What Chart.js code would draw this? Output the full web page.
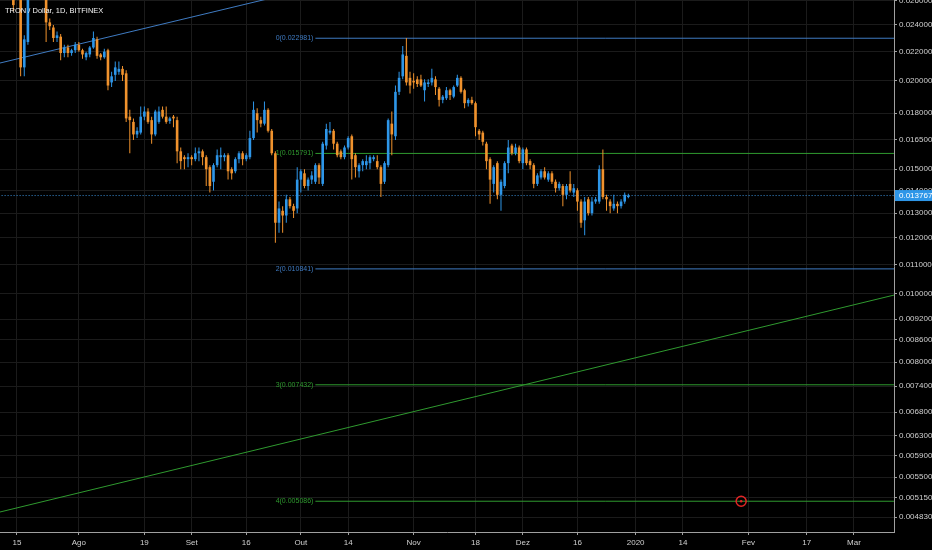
<!DOCTYPE html>
<html>
<head>
<meta charset="utf-8">
<script src="https://cdn.jsdelivr.net/npm/chart.js@4.4.1/dist/chart.umd.min.js"></script>
<style>
html, body { margin: 0; padding: 0; background: #000; }
#wrap { width: 932px; height: 550px; }
</style>
</head>
<body>
<div id="wrap"><canvas id="chart" width="932" height="550"></canvas></div>
<script>
const FONT = '"Liberation Sans", Arial, sans-serif';
const UP_COLOR = "#2e96e8";
const DOWN_COLOR = "#f0922d";
const BLUE_LINE = "#3f7bc2";
const GREEN_LINE = "#2f9a2f";

// day index 0 = 15 Jul 2019, first candle is day -1
const FIRST_DAY = -1;
const opens = [
	0.0272, 0.0268, 0.0282, 0.0209, 0.0227, 0.0295, 0.0285, 0.0290, 0.0278, 0.0272,
	0.0242, 0.0238, 0.0230, 0.0231, 0.0219, 0.0223, 0.0219, 0.0221, 0.0225, 0.0221,
	0.0216, 0.0218, 0.0223, 0.0229, 0.0218, 0.0216, 0.0221, 0.0199, 0.0204, 0.0206,
	0.0208, 0.0205, 0.0178, 0.0175, 0.0168, 0.0169, 0.0178, 0.0181, 0.0176, 0.0168,
	0.0175, 0.0182, 0.0178, 0.01755, 0.0178, 0.0176, 0.0159, 0.0156, 0.0155, 0.0156,
	0.0155, 0.0158, 0.0159, 0.0156, 0.0151, 0.0144, 0.0152, 0.0156, 0.0156, 0.0157,
	0.0150, 0.0149, 0.0155, 0.0158, 0.0155, 0.0156, 0.0166, 0.0180, 0.0176, 0.0174,
	0.0182, 0.0170, 0.0158, 0.0126, 0.0131, 0.0129, 0.0136, 0.0133, 0.0132, 0.0145,
	0.0148, 0.0142, 0.0145, 0.0144, 0.0152, 0.0143, 0.0162, 0.0169, 0.0170, 0.0163,
	0.0159, 0.0156, 0.0161, 0.0167, 0.0157, 0.0149, 0.0152, 0.0152, 0.0153, 0.0155,
	0.0154, 0.0151, 0.0144, 0.0152, 0.0174, 0.0167, 0.0193, 0.0203, 0.0217, 0.0202,
	0.0200, 0.0201, 0.0201, 0.0194, 0.0198, 0.0199, 0.0201, 0.0195, 0.0188, 0.0189,
	0.0194, 0.0190, 0.0197, 0.0202, 0.0194, 0.0186, 0.0188, 0.0186, 0.0170, 0.0169,
	0.0163, 0.0155, 0.0143, 0.0153, 0.0138, 0.0142, 0.0153, 0.0162, 0.0158, 0.0161,
	0.0153, 0.0160, 0.0154, 0.0152, 0.0143, 0.0146, 0.0149, 0.0145, 0.0148, 0.0144,
	0.0141, 0.0142, 0.0138, 0.0143, 0.0139, 0.0140, 0.0135, 0.0127, 0.0136, 0.0130,
	0.0135, 0.0135, 0.0150, 0.0137, 0.0135, 0.0132, 0.0134, 0.0133, 0.0135, 0.0137,
];
const highs = [
	0.0278, 0.0285, 0.0288, 0.0232, 0.0300, 0.0310, 0.0300, 0.0296, 0.0285, 0.0276,
	0.0245, 0.0240, 0.0235, 0.0233, 0.0225, 0.0225, 0.0222, 0.0227, 0.0227, 0.0222,
	0.0220, 0.0224, 0.0235, 0.0231, 0.0219, 0.0222, 0.0222, 0.0206, 0.0213, 0.0213,
	0.0210, 0.0207, 0.0182, 0.0177, 0.0172, 0.0184, 0.0184, 0.0183, 0.0178, 0.0182,
	0.0184, 0.0184, 0.0184, 0.0178, 0.0179, 0.0178, 0.0161, 0.0157, 0.0158, 0.0157,
	0.0161, 0.0161, 0.0160, 0.0157, 0.0152, 0.0153, 0.0160, 0.0161, 0.0158, 0.0158,
	0.0151, 0.0156, 0.0159, 0.0159, 0.0158, 0.0170, 0.0187, 0.0183, 0.0178, 0.0187,
	0.0183, 0.0171, 0.0159, 0.0135, 0.0133, 0.0138, 0.0137, 0.0134, 0.0151, 0.0150,
	0.0150, 0.0146, 0.0149, 0.0153, 0.0153, 0.0164, 0.0174, 0.0175, 0.0171, 0.0164,
	0.0160, 0.0162, 0.0167, 0.0168, 0.0158, 0.0153, 0.0155, 0.0157, 0.0157, 0.0157,
	0.0157, 0.0152, 0.0154, 0.0177, 0.0181, 0.0197, 0.0206, 0.0224, 0.0230, 0.0206,
	0.0205, 0.0203, 0.0204, 0.0201, 0.0201, 0.0208, 0.0203, 0.0196, 0.0191, 0.0196,
	0.0195, 0.0197, 0.0204, 0.0203, 0.0195, 0.0189, 0.0190, 0.0187, 0.0171, 0.0170,
	0.0164, 0.0156, 0.0152, 0.0154, 0.0145, 0.0154, 0.0165, 0.0163, 0.0163, 0.0162,
	0.0161, 0.0161, 0.0155, 0.0153, 0.0148, 0.0150, 0.0151, 0.0149, 0.0149, 0.0145,
	0.0144, 0.0143, 0.0143, 0.0149, 0.0143, 0.0141, 0.0136, 0.0137, 0.0137, 0.0137,
	0.0137, 0.0152, 0.0160, 0.0138, 0.0136, 0.0138, 0.0135, 0.0136, 0.0139, 0.01385,
];
const lows = [
	0.0251, 0.0263, 0.0203, 0.0203, 0.0225, 0.0280, 0.0275, 0.0272, 0.0268, 0.0227,
	0.0236, 0.0227, 0.0227, 0.0214, 0.0216, 0.0216, 0.0217, 0.0219, 0.0220, 0.0215,
	0.0214, 0.0216, 0.0222, 0.0215, 0.0214, 0.0215, 0.0194, 0.0196, 0.0200, 0.0204,
	0.0200, 0.0175, 0.0158, 0.0165, 0.0166, 0.0168, 0.0176, 0.0174, 0.0163, 0.0167,
	0.0174, 0.0177, 0.0174, 0.0174, 0.0172, 0.0153, 0.0150, 0.0150, 0.0151, 0.0152,
	0.0154, 0.0154, 0.0152, 0.0142, 0.0139, 0.0140, 0.0151, 0.0150, 0.0154, 0.0145,
	0.0145, 0.0148, 0.0153, 0.0152, 0.0154, 0.0155, 0.0165, 0.0169, 0.0172, 0.0173,
	0.0169, 0.0157, 0.0118, 0.0122, 0.0122, 0.0126, 0.0132, 0.0128, 0.0130, 0.0139,
	0.0141, 0.0140, 0.0143, 0.0143, 0.0143, 0.0142, 0.0160, 0.0168, 0.0160, 0.0156,
	0.0155, 0.0155, 0.0160, 0.0145, 0.0146, 0.0146, 0.0149, 0.0150, 0.0150, 0.0154,
	0.0150, 0.0137, 0.0143, 0.0151, 0.0157, 0.0165, 0.0191, 0.0201, 0.0197, 0.0192,
	0.0195, 0.0196, 0.0196, 0.0187, 0.0196, 0.0197, 0.0191, 0.0184, 0.0186, 0.0188,
	0.0188, 0.0189, 0.0196, 0.0192, 0.0183, 0.0184, 0.0185, 0.0167, 0.0165, 0.0162,
	0.0150, 0.0134, 0.0139, 0.0136, 0.0131, 0.0141, 0.0148, 0.0157, 0.0157, 0.0153,
	0.0150, 0.0152, 0.0150, 0.0141, 0.0142, 0.0145, 0.0145, 0.0144, 0.0143, 0.0139,
	0.0140, 0.0133, 0.0136, 0.0139, 0.0137, 0.0131, 0.0124, 0.0121, 0.0129, 0.0129,
	0.0134, 0.0134, 0.0136, 0.0131, 0.0130, 0.0131, 0.0130, 0.0132, 0.0134, 0.01365,
];
const closes = [
	0.0256, 0.0280, 0.0209, 0.0229, 0.0295, 0.0285, 0.0290, 0.0278, 0.0272, 0.0242,
	0.0239, 0.0230, 0.0232, 0.0219, 0.0223, 0.0219, 0.0221, 0.0225, 0.0221, 0.0218,
	0.0219, 0.0223, 0.0230, 0.0217, 0.0216, 0.0220, 0.0197, 0.0203, 0.0209, 0.0208,
	0.0204, 0.0177, 0.0176, 0.0168, 0.0170, 0.0178, 0.0181, 0.0175, 0.0168, 0.0181,
	0.0181, 0.0178, 0.0175, 0.0177, 0.0177, 0.0159, 0.0154, 0.0155, 0.0156, 0.0155,
	0.0158, 0.0159, 0.0156, 0.0150, 0.0142, 0.0152, 0.0157, 0.0157, 0.0157, 0.0149,
	0.0148, 0.0155, 0.0158, 0.0155, 0.0157, 0.0166, 0.0182, 0.0176, 0.0174, 0.0182,
	0.0170, 0.0158, 0.0126, 0.0132, 0.0129, 0.0136, 0.0133, 0.0131, 0.0145, 0.0149,
	0.0142, 0.0145, 0.0147, 0.0152, 0.0146, 0.0163, 0.0171, 0.0170, 0.0163, 0.0157,
	0.0156, 0.0161, 0.0166, 0.0155, 0.0151, 0.0152, 0.0154, 0.0154, 0.0156, 0.0156,
	0.0151, 0.0143, 0.0153, 0.0176, 0.0168, 0.0193, 0.0202, 0.0218, 0.0199, 0.0197,
	0.0199, 0.0198, 0.0197, 0.0199, 0.0199, 0.0202, 0.0196, 0.0188, 0.0190, 0.0194,
	0.0191, 0.0196, 0.0202, 0.0193, 0.0186, 0.0188, 0.0186, 0.0172, 0.0168, 0.0164,
	0.0154, 0.0145, 0.0151, 0.0138, 0.0144, 0.0153, 0.0161, 0.0158, 0.0161, 0.0154,
	0.0160, 0.0153, 0.0152, 0.0143, 0.0147, 0.0149, 0.0146, 0.0148, 0.0144, 0.0141,
	0.0143, 0.0138, 0.0142, 0.0140, 0.0141, 0.0135, 0.0126, 0.0135, 0.0130, 0.0135,
	0.0136, 0.0150, 0.0137, 0.0136, 0.0133, 0.0134, 0.0133, 0.0135, 0.0138, 0.013767,
];

const X_TICK_DAYS = [0, 17, 35, 48, 63, 78, 91, 109, 126, 139, 154, 170, 183, 201, 217, 230];
const X_TICK_LABELS = ["15", "Ago", "19", "Set", "16", "Out", "14", "Nov", "18", "Dez", "16", "2020", "14", "Fev", "17", "Mar"];
const X_MIN = -4.67;
const X_MAX = 241.0;

const Y_TICKS = [
	0.026, 0.024, 0.022, 0.020, 0.018, 0.0165, 0.015, 0.014, 0.013, 0.012, 0.011,
	0.010, 0.0092, 0.0086, 0.0080, 0.0074, 0.0068, 0.0063, 0.0059, 0.0055, 0.00515, 0.00483,
];
const Y_MIN = 0.004601;
const Y_MAX = 0.02603;

// fibonacci levels drawn from day 82 to the right
const FIB_START_DAY = 82;
const FIB_LEVELS = ["0", "1", "2", "3", "4"];
const FIB_VALUES = [0.022981, 0.015791, 0.010841, 0.007432, 0.005086];
const FIB_COLORS = [BLUE_LINE, GREEN_LINE, BLUE_LINE, GREEN_LINE, GREEN_LINE];

// trend lines [day, price]
const UPPER_TREND = [[-5, 0.02118], [100, 0.02854]];
const LOWER_TREND = [[-5, 0.004906], [245, 0.01007]];

// marker on the last fib level
const MARKER_DAY = 199;
const MARKER_PRICE = 0.005086;

const days = opens.map((_, i) => FIRST_DAY + i);
const lastClose = closes[closes.length - 1];
const candleColors = opens.map((o, i) => (closes[i] >= o ? UP_COLOR : DOWN_COLOR));

const fibDatasets = FIB_VALUES.map((v, i) => ({
	type: "line",
	data: [{ x: FIB_START_DAY, y: v }, { x: 260, y: v }],
	borderColor: FIB_COLORS[i],
	borderWidth: 1,
	pointRadius: 0,
	order: 2,
}));

const trendDataset = (pts, color) => ({
	type: "line",
	data: pts.map((p) => ({ x: p[0], y: p[1] })),
	borderColor: color,
	borderWidth: 1,
	pointRadius: 0,
	order: 2,
});

const overlay = {
	id: "overlay",
	afterDatasetsDraw(chart) {
		const { ctx, scales } = chart;
		ctx.save();
		ctx.font = "7px " + FONT;
		ctx.textAlign = "right";
		ctx.textBaseline = "middle";
		FIB_VALUES.forEach((v, i) => {
			ctx.fillStyle = FIB_COLORS[i];
			ctx.fillText(
				`${FIB_LEVELS[i]}(${v.toFixed(6)})`,
				scales.x.getPixelForValue(FIB_START_DAY) - 2,
				scales.y.getPixelForValue(v)
			);
		});
		ctx.restore();
	},
	afterDraw(chart) {
		const { ctx, scales, chartArea } = chart;
		ctx.save();
		ctx.font = "7.5px " + FONT;
		ctx.fillStyle = "#f2f2f2";
		ctx.textAlign = "left";
		ctx.textBaseline = "middle";
		ctx.fillText("TRON / Dollar, 1D, BITFINEX", 5, 11);

		// last price label on the axis
		var py = scales.y.getPixelForValue(lastClose);
		ctx.font = "8px " + FONT;
		ctx.fillStyle = "#2e96e8";
		ctx.fillRect(chartArea.right + 1, py - 5.5, 38, 11);
		ctx.fillStyle = "#ffffff";
		ctx.fillText(lastClose.toFixed(6), chartArea.right + 5, py);
		ctx.restore();
	},
};

new Chart(document.getElementById("chart"), {
	type: "bar",
	data: {
		datasets: [
			{
				label: "wicks",
				data: days.map((d, i) => ({ x: d, y: [lows[i], highs[i]] })),
				backgroundColor: candleColors,
				maxBarThickness: 1,
				grouped: false,
				order: 1,
			},
			{
				label: "bodies",
				data: days.map((d, i) => ({ x: d, y: [opens[i], closes[i]] })),
				backgroundColor: candleColors,
				maxBarThickness: 2.7,
				minBarLength: 1,
				grouped: false,
				order: 0,
			},
			trendDataset(UPPER_TREND, BLUE_LINE),
			trendDataset(LOWER_TREND, GREEN_LINE),
			...fibDatasets,
			{
				type: "line",
				data: [{ x: -10, y: lastClose }, { x: 260, y: lastClose }],
				borderColor: "#3a8fd8",
				borderWidth: 1,
				borderDash: [1, 2],
				pointRadius: 0,
				order: 2,
			},
			{
				type: "scatter",
				data: [{ x: MARKER_DAY, y: MARKER_PRICE }],
				pointRadius: 5,
				pointBorderWidth: 1.5,
				pointBorderColor: "#e32525",
				pointBackgroundColor: "rgba(0,0,0,0)",
				order: -1,
			},
			{
				type: "scatter",
				data: [{ x: MARKER_DAY, y: MARKER_PRICE }],
				pointRadius: 1.3,
				pointBorderWidth: 0,
				pointBackgroundColor: "#e32525",
				order: -2,
			},
		],
	},
	plugins: [overlay],
	options: {
		responsive: false,
		animation: false,
		layout: { padding: 0, autoPadding: false },
		plugins: { legend: { display: false }, tooltip: { enabled: false } },
		scales: {
			x: {
				type: "linear",
				min: X_MIN,
				max: X_MAX,
				offset: false,
				afterBuildTicks: (s) => {
					s.ticks = X_TICK_DAYS.map((v) => ({ value: v }));
				},
				afterFit: (s) => {
					s.height = 18;
					s.paddingLeft = 0;
					s.paddingRight = 0;
				},
				ticks: {
					autoSkip: false,
					maxRotation: 0,
					color: "#cfcfcf",
					padding: 3,
					font: { size: 8, family: FONT },
					callback: (v, i) => X_TICK_LABELS[i],
				},
				grid: { color: "#1b1b1b", tickColor: "#a0a0a0", tickLength: 3, offset: false },
				border: { color: "#a0a0a0" },
			},
			y: {
				type: "logarithmic",
				position: "right",
				min: Y_MIN,
				max: Y_MAX,
				afterBuildTicks: (s) => {
					s.ticks = Y_TICKS.map((v) => ({ value: v }));
				},
				afterFit: (s) => {
					s.width = 38;
					s.paddingTop = 0;
					s.paddingBottom = 0;
				},
				ticks: {
					color: "#cfcfcf",
					padding: 2,
					font: { size: 8, family: FONT },
					callback: (v) => Number(v).toFixed(6),
				},
				grid: { color: "#1b1b1b", tickColor: "#a0a0a0", tickLength: 3 },
				border: { color: "#a0a0a0" },
			},
		},
	},
});
</script>
</body>
</html>
